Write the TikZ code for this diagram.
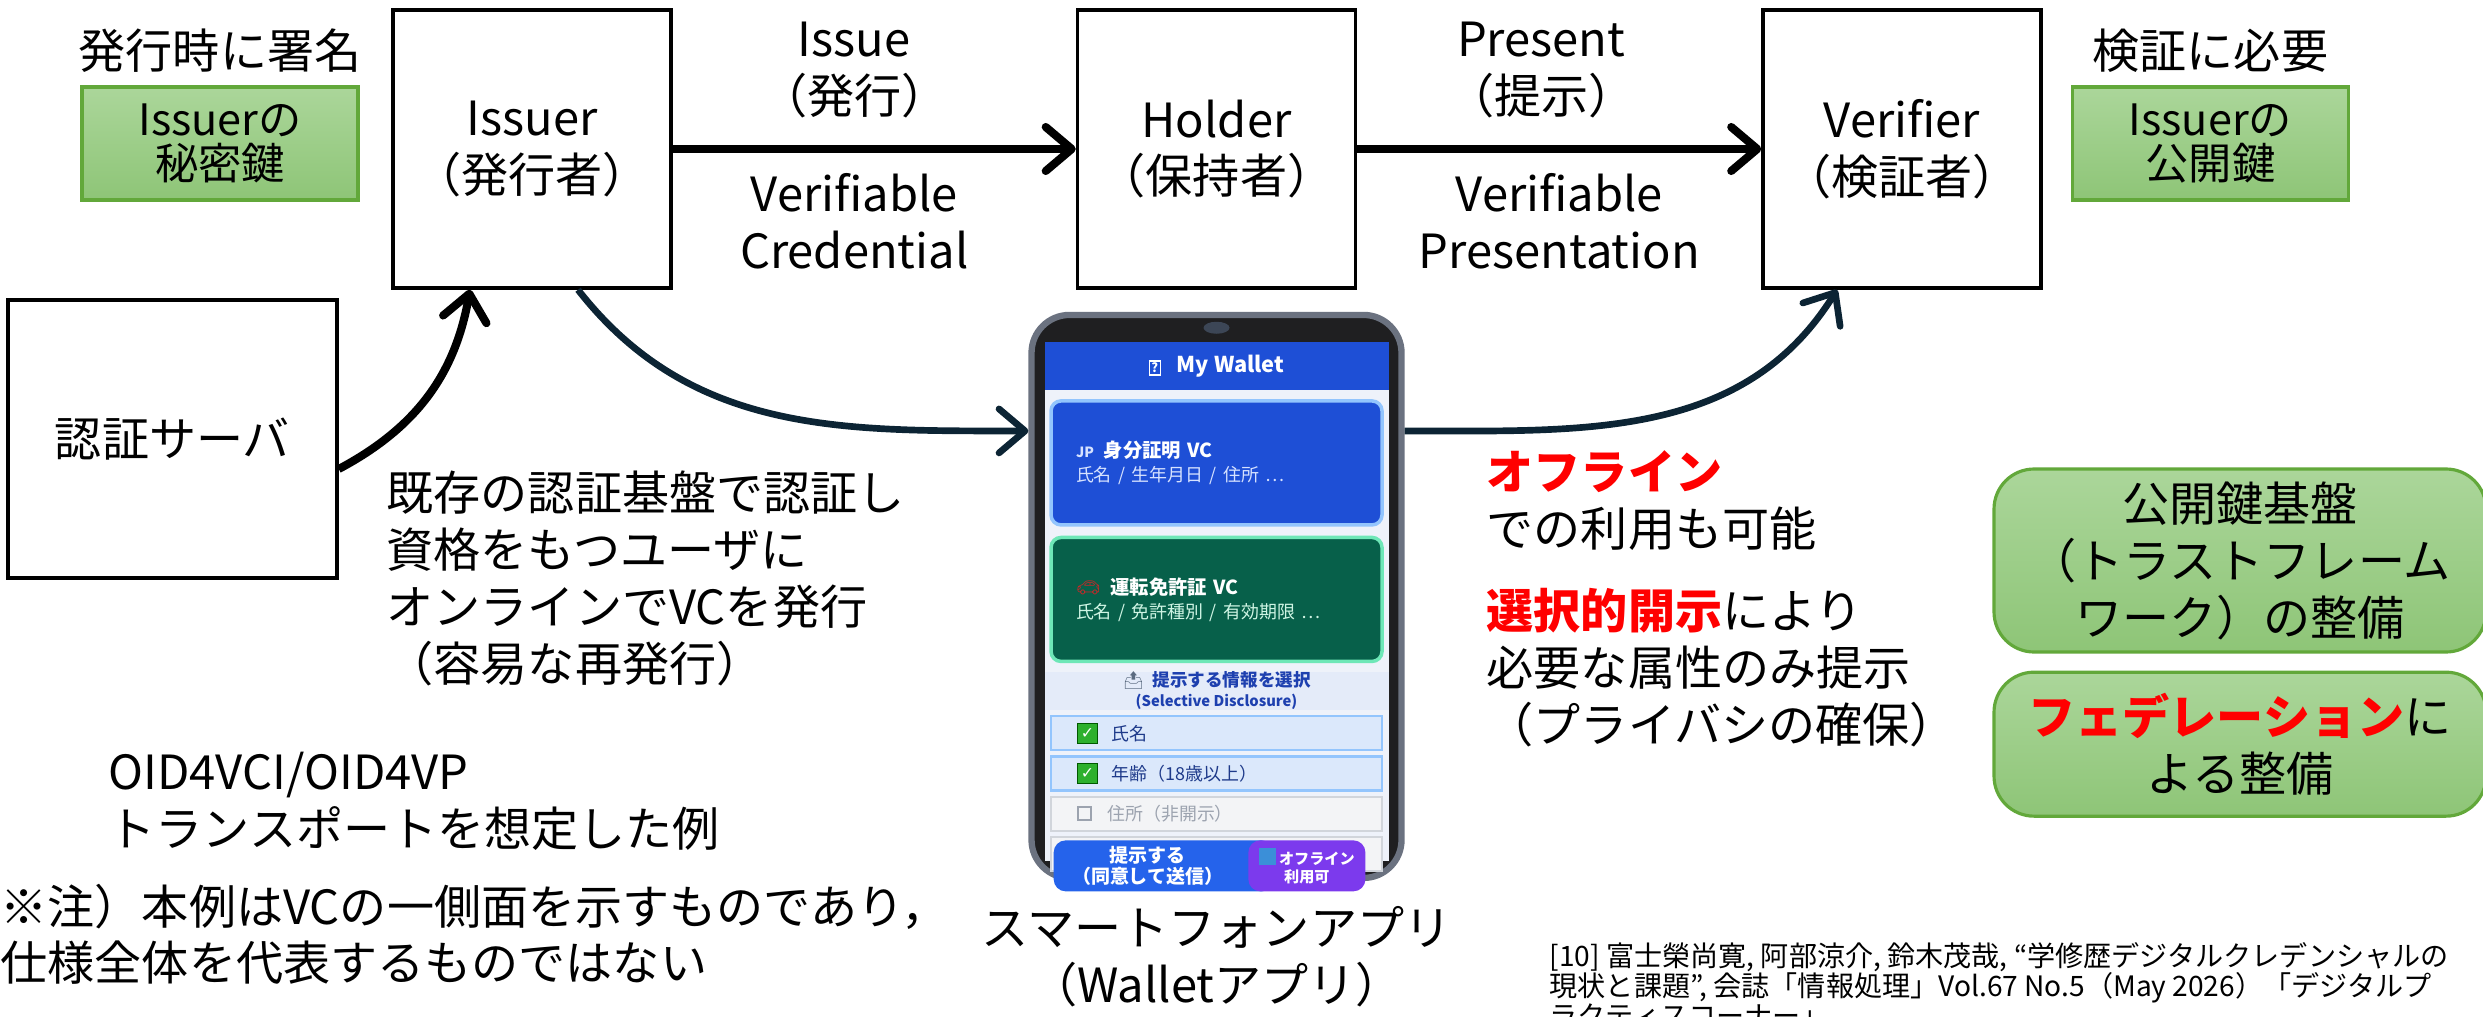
\documentclass[tikz,border=0pt]{standalone}
\usepackage{fontspec}
\setmainfont{Noto Sans CJK JP}
\newfontfamily\emojifont{Noto Emoji}
\newfontfamily\symbolfont{DejaVu Sans}
\usetikzlibrary{shapes.geometric, arrows.meta, positioning, fit}

\definecolor{keytop}{HTML}{ABD69A}
\definecolor{keybot}{HTML}{8EC577}
\definecolor{keyedge}{HTML}{62A83A}
\definecolor{navy}{HTML}{0C2434}
\definecolor{alert}{HTML}{FF0000}
\definecolor{phoneblack}{HTML}{1F1F21}
\definecolor{phonerim}{HTML}{6B7280}
\definecolor{camgray}{HTML}{3C4656}
\definecolor{screenbg}{HTML}{EEF2FA}
\definecolor{walletblue}{HTML}{1E4FD6}
\definecolor{idedge}{HTML}{93C5FD}
\definecolor{subtext}{HTML}{D6E2FF}
\definecolor{drivegreen}{HTML}{07604A}
\definecolor{driveedge}{HTML}{6EE7B7}
\definecolor{drivesub}{HTML}{CFF5E4}
\definecolor{carred}{HTML}{C62828}
\definecolor{pickbg}{HTML}{E4EBF9}
\definecolor{picktext}{HTML}{1E40AF}
\definecolor{traygray}{HTML}{5B6B80}
\definecolor{rowblue}{HTML}{DBE8FB}
\definecolor{rowgray}{HTML}{F3F4F6}
\definecolor{rowgrayedge}{HTML}{D1D5DB}
\definecolor{rowtext}{HTML}{1E3A8A}
\definecolor{mutetext}{HTML}{9CA3AF}
\definecolor{sendblue}{HTML}{2563EB}
\definecolor{offpurple}{HTML}{7C3AED}
\definecolor{officon}{HTML}{3B8FD8}
\definecolor{okgreen}{HTML}{2DB02D}

\newcommand\bigtxt{\fontsize{13.4}{16.2}\selectfont}
\newcommand\keytxt{\fontsize{12.3}{12.6}\selectfont}
\newcommand\reftxt{\fontsize{8}{8.5}\selectfont}
\newcommand\tofu{{\setlength{\fboxsep}{0.4pt}\setlength{\fboxrule}{0.35pt}\fbox{\fontsize{3.6}{3.6}\selectfont ?}}}
\newcommand\jpmark{{\fontsize{4}{4}\selectfont\color{subtext}JP}}
\newcommand\offmark{\textcolor{officon}{\rule[-0.2pt]{0.17cm}{0.17cm}}\hspace{0.03cm}}

\tikzstyle{actor} = [rectangle, minimum width=2.78cm, minimum height=2.78cm, align=center, draw=black, line width=1pt, font=\bigtxt]
\tikzstyle{keybox} = [rectangle, minimum width=2.76cm, minimum height=1.13cm, align=center, draw=keyedge, line width=0.9pt, top color=keytop, bottom color=keybot, font=\keytxt, inner sep=0pt]
\tikzstyle{infra} = [keybox, rounded corners=0.4cm, minimum width=4.92cm, font=\bigtxt]
\tikzstyle{remark} = [align=left, inner sep=0pt, font=\bigtxt]
\tikzstyle{flow} = [line width=2.3pt, -{Straight Barb[length=2.6mm, width=4.4mm, round]}]
\tikzstyle{curvy} = [flow, line width=1.9pt, draw=navy]
\tikzstyle{card} = [rectangle, rounded corners=0.1cm, line width=1pt, inner xsep=0.25cm, inner ysep=0pt, text width=2.81cm, minimum height=1.24cm, align=left, text=white, font=\fontsize{5.5}{6.8}\selectfont]
\tikzstyle{attr} = [rectangle, minimum width=3.31cm, minimum height=0.34cm, inner sep=0pt, line width=0.6pt]
\tikzstyle{okbox} = [rectangle, fill=okgreen, draw=green!35!black, line width=0.3pt, minimum size=0.2cm, inner sep=0pt, text=white, font=\symbolfont\fontsize{4.5}{4.5}\selectfont]
\tikzstyle{attrtext} = [inner sep=0pt, anchor=west, text=rowtext, font=\fontsize{5.1}{5.1}\selectfont]
\tikzstyle{button} = [rectangle, rounded corners=0.12cm, minimum height=0.51cm, inner sep=0pt]

\begin{document}
\begin{tikzpicture}[node distance=1cm]
\useasboundingbox (0,0) rectangle (24.83,-10.16);

% issuer -> holder -> verifier
\node (issuer) [actor] at (5.32,-1.49) {Issuer\\（発行者）};
\node (holder) [actor, right=4.03cm of issuer] {Holder\\（保持者）};
\node (verifier) [actor, right=4.04cm of holder] {Verifier\\（検証者）};

\draw [flow] (issuer) -- node[above=0.27cm, xshift=-2mm, remark, align=center] {Issue\\（発行）} node[below=0.2cm, xshift=-2mm, remark, align=center] {Verifiable\\Credential} (holder);
\draw [flow] (holder) -- node[above=0.27cm, xshift=-1.8mm, remark, align=center] {Present\\（提示）} node[below=0.2cm, remark, align=center] {Verifiable\\Presentation} (verifier);

% signing / verification keys
\node (signkey) [keybox] at (2.20,-1.435) {Issuerの\\秘密鍵};
\node (signnote) [above=0.12cm of signkey, remark] {発行時に署名};
\node (checkkey) [keybox, right=0.28cm of verifier, yshift=0.055cm] {Issuerの\\公開鍵};
\node (checknote) [above=0.12cm of checkkey, remark] {検証に必要};

% existing login
\node (authsrv) [actor, minimum width=3.29cm] at (1.725,-4.39) {認証サーバ};
\draw [flow] ([yshift=-0.3cm]authsrv.east) to[out=28, in=-100] ([xshift=-0.62cm]issuer.south);

% wallet phone
\node (phone) [rectangle, rounded corners=0.38cm, minimum width=3.70cm, minimum height=5.63cm, fill=phoneblack, draw=phonerim, line width=1.8pt, below=0.22cm of holder] {};
\node (cam) [ellipse, fill=camgray, minimum width=0.26cm, minimum height=0.12cm, inner sep=0pt] at ([yshift=-0.16cm]phone.north) {};
\node (screen) [rectangle, fill=screenbg, minimum width=3.44cm, minimum height=5.19cm, inner sep=0pt, anchor=north] at ([yshift=-0.30cm]phone.north) {};
\node (header) [rectangle, fill=walletblue, minimum width=3.44cm, minimum height=0.48cm, inner sep=0pt, anchor=north, text=white, font=\fontsize{6.2}{6.2}\selectfont\bfseries] at (screen.north) {\tofu\hspace{0.16cm}My Wallet};

\node (idcard) [card, fill=walletblue, draw=idedge, below=0.08cm of header] {{\bfseries \jpmark\hspace{0.1cm}身分証明 VC}\\{\fontsize{5.1}{6.8}\selectfont\color{subtext}氏名 / 生年月日 / 住所 …}};
\node (drivecard) [card, fill=drivegreen, draw=driveedge, below=0.09cm of idcard] {{\emojifont\color{carred}🚗}\hspace{0.1cm}{\bfseries 運転免許証 VC}\\{\fontsize{5.1}{6.8}\selectfont\color{drivesub}氏名 / 免許種別 / 有効期限 …}};

\node (pickhead) [rectangle, fill=pickbg, minimum width=3.44cm, minimum height=0.37cm, inner sep=0pt, align=center, below=0.08cm of drivecard, text=picktext, font=\fontsize{5}{5.6}\selectfont\bfseries] {{\emojifont\color{traygray}📤}\hspace{0.08cm}提示する情報を選択\\{\fontsize{4.2}{4.2}\selectfont (Selective Disclosure)}};

\node (namerow) [attr, fill=rowblue, draw=idedge, below=0.05cm of pickhead] {};
\node (agerow) [attr, fill=rowblue, draw=idedge, below=0.04cm of namerow] {};
\node (addrrow) [attr, fill=rowgray, draw=rowgrayedge, below=0.04cm of agerow] {};
\node (spare) [attr, fill=rowgray, draw=rowgrayedge, below=0.04cm of addrrow] {};

\node (nametick) [okbox, right=0.27cm of namerow.west] {✓};
\node (nametext) [attrtext, right=0.13cm of nametick] {氏名};
\node (agetick) [okbox, right=0.27cm of agerow.west] {✓};
\node (agetext) [attrtext, right=0.13cm of agetick] {年齢（18歳以上）};
\node (addrbox) [rectangle, draw=mutetext, line width=0.5pt, minimum size=0.13cm, inner sep=0pt, right=0.27cm of addrrow.west] {};
\node (addrtext) [attrtext, text=mutetext, right=0.15cm of addrbox] {住所（非開示）};

\node (sendbtn) [button, fill=sendblue, minimum width=2.2cm, anchor=north west] at ([xshift=0.03cm, yshift=-0.04cm]spare.north west) {};
\node (offbtn) [button, fill=offpurple, minimum width=1.17cm, anchor=north east] at ([xshift=-0.17cm, yshift=-0.04cm]spare.north east) {};
\node (sendtext) [align=center, inner sep=0pt, text=white, font=\fontsize{5.4}{6.2}\selectfont\bfseries] at ([xshift=-0.16cm]sendbtn.center) {提示する\\（同意して送信）};
\node (offtext) [align=center, inner sep=0pt, text=white, font=\fontsize{4.3}{5.1}\selectfont\bfseries] at (offbtn.center) {\offmark オフライン\\利用可};

\draw [curvy] ([xshift=0.46cm]issuer.south) to[out=-52, in=180] ([yshift=1.655cm]phone.west);
\draw [curvy] ([yshift=1.655cm]phone.east) to[out=0, in=-122] ([xshift=-0.65cm]verifier.south);

\node (appname) [below=0.25cm of phone, remark, align=center] {スマートフォンアプリ\\（Walletアプリ）};

% notes
\node (onboard) [remark, anchor=north west] at (3.86,-4.70) {既存の認証基盤で認証し\\資格をもつユーザに\\オンラインでVCを発行\\（容易な再発行）};
\node (offline) [remark, anchor=north west] at (14.86,-4.50) {{\color{alert}\bfseries オフライン}\\での利用も可能};
\node (selective) [remark, anchor=north west] at (14.86,-5.88) {{\color{alert}\bfseries 選択的開示}により\\必要な属性のみ提示\\（プライバシの確保）};
\node (transport) [remark, anchor=north west] at (1.08,-7.51) {OID4VCI/OID4VP\\トランスポートを想定した例};
\node (caveat) [remark, anchor=north west] at (0,-8.83) {※注）本例はVCの一側面を示すものであり，\\仕様全体を代表するものではない};

% trust framework
\node (pki) [infra, minimum height=1.83cm] at (22.40,-5.605) {公開鍵基盤\\（トラストフレーム\\ワーク）の整備};
\node (fed) [infra, minimum height=1.44cm, below=0.17cm of pki] {{\color{alert}\bfseries フェデレーション}に\\よる整備};

\node (cite) [anchor=north west, align=left, inner sep=0pt, font=\reftxt] at (15.49,-9.42) {[10] 富士榮尚寛, 阿部涼介, 鈴木茂哉, “学修歴デジタルクレデンシャルの\\現状と課題”, 会誌「情報処理」Vol.67 No.5（May 2026）「デジタルプ\\ラクティスコーナー」};

\end{tikzpicture}
\end{document}
